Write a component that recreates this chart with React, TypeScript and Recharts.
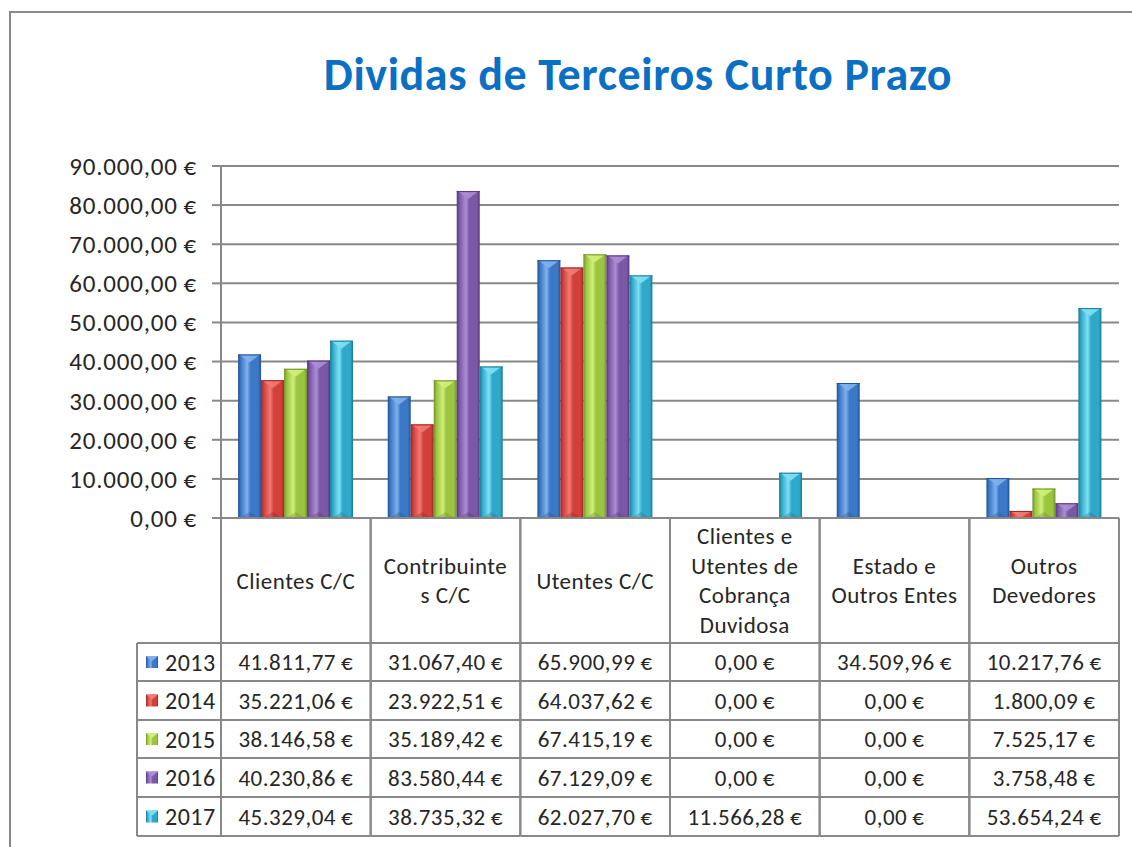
import React from 'react'
import { BarChart, Bar, XAxis, YAxis, CartesianGrid } from 'recharts'

const categories = [
  'Clientes C/C',
  'Contribuinte\ns C/C',
  'Utentes C/C',
  'Clientes e\nUtentes de\nCobrança\nDuvidosa',
  'Estado e\nOutros Entes',
  'Outros\nDevedores',
]
const years = ['2013', '2014', '2015', '2016', '2017']
const v2013 = [41811.77, 31067.4, 65900.99, 0, 34509.96, 10217.76]
const v2014 = [35221.06, 23922.51, 64037.62, 0, 0, 1800.09]
const v2015 = [38146.58, 35189.42, 67415.19, 0, 0, 7525.17]
const v2016 = [40230.86, 83580.44, 67129.09, 0, 0, 3758.48]
const v2017 = [45329.04, 38735.32, 62027.7, 11566.28, 0, 53654.24]
const yTicks = [0, 10000, 20000, 30000, 40000, 50000, 60000, 70000, 80000, 90000]

const series = [v2013, v2014, v2015, v2016, v2017]

// base, dark, light
const PALETTE = [
  ['#3b78c8', '#24528f', '#7fb1ec'],
  ['#d33f3b', '#9c2523', '#f27a74'],
  ['#9bc441', '#6e9128', '#d0ef7a'],
  ['#7b58a6', '#553679', '#ac8ed4'],
  ['#2fa9c9', '#1b7a94', '#7fe0f5'],
]

const W = 1132
const H = 847
const PLOT_L = 221
const PLOT_R = 1119
const PLOT_T = 166
const PLOT_B = 518
const BAND = (PLOT_R - PLOT_L) / categories.length
const ROWS = [643, 681, 720, 758, 797, 836]
const LEG_L = 137
const GRAY = '#888888'
const TXT = '#262626'
const FONT = 'Carlito, Lato, "Open Sans", sans-serif'
const TFS = 23

const data = categories.map((name, i) => {
  const row: Record<string, string | number> = { name }
  years.forEach((y, s) => { row[y] = series[s][i] })
  return row
})

function fmt(v: number) {
  const [int, dec] = v.toFixed(2).split('.')
  return int.replace(/\B(?=(\d{3})+(?!\d))/g, '.') + ',' + dec + '\u2009€'
}

function Bar3D(props: any) {
  const { x, y, width, height, s } = props
  if (!height || height <= 0.5) return null
  const [, dark, light] = PALETTE[s]
  const cap = Math.min(8, height)
  return (
    <g>
      <rect x={x} y={y} width={width} height={height} fill={`url(#bar${s})`} />
      <polygon points={`${x + 1},${y} ${x + width - 1},${y} ${x + width / 2},${y + cap}`} fill={light} opacity={0.9} />
      <line x1={x} x2={x + width} y1={y + 0.5} y2={y + 0.5} stroke={dark} strokeWidth={1} />
      {height > 16 && (
        <polygon points={`${x + 2},${y + height} ${x + width - 2},${y + height} ${x + width / 2},${y + height - 6}`} fill={dark} opacity={0.35} />
      )}
    </g>
  )
}

function TableTick(props: any) {
  const { x, index } = props
  const left = x - BAND / 2
  const right = x + BAND / 2
  const lines = categories[index].split('\n')
  const headMid = (PLOT_B + ROWS[0]) / 2
  const lh = 29.5
  return (
    <g fontFamily={FONT} fill={TXT} letterSpacing={0.5}>
      <line x1={left} x2={left} y1={PLOT_B} y2={ROWS[5]} stroke={GRAY} strokeWidth={2} />
      <line x1={right} x2={right} y1={PLOT_B} y2={ROWS[5]} stroke={GRAY} strokeWidth={2} />
      {ROWS.map((ry) => (
        <line key={ry} x1={left} x2={right} y1={ry} y2={ry} stroke={GRAY} strokeWidth={2} />
      ))}
      {lines.map((t, k) => (
        <text key={k} x={x} y={headMid + (k - (lines.length - 1) / 2) * lh} textAnchor="middle" dominantBaseline="central" fontSize={TFS}>
          {t}
        </text>
      ))}
      {series.map((vals, s) => (
        <text key={s} x={x} y={(ROWS[s] + ROWS[s + 1]) / 2} textAnchor="middle" dominantBaseline="central" fontSize={TFS}>
          {fmt(vals[index])}
        </text>
      ))}
      {index === 0 && (
        <g>
          <line x1={LEG_L} x2={LEG_L} y1={ROWS[0]} y2={ROWS[5]} stroke={GRAY} strokeWidth={2} />
          {ROWS.map((ry) => (
            <line key={ry} x1={LEG_L} x2={left} y1={ry} y2={ry} stroke={GRAY} strokeWidth={2} />
          ))}
          {years.map((yr, s) => {
            const cy = (ROWS[s] + ROWS[s + 1]) / 2
            return (
              <g key={yr}>
                <rect x={146} y={cy - 6} width={12} height={12} fill={`url(#bar${s})`} />
                <polygon points={`${146},${cy - 6} ${158},${cy - 6} ${152},${cy - 1}`} fill={PALETTE[s][2]} />
                <text x={165} y={cy} dominantBaseline="central" fontSize={24}>{yr}</text>
              </g>
            )
          })}
        </g>
      )}
    </g>
  )
}

export default function App() {
  return (
    <div style={{ position: 'absolute', left: 0, top: 0, width: W, height: H, background: '#fff' }}>
      <svg width={W} height={H} style={{ position: 'absolute', left: 0, top: 0 }}>
        <rect x={10} y={12} width={W + 10} height={H + 10} fill="none" stroke={GRAY} strokeWidth={2} />
        <text x={638} y={90} textAnchor="middle" fontFamily={FONT} fontWeight={700} fontSize={46} letterSpacing={0.6} fill="#0b6fc4">
          Dividas de Terceiros Curto Prazo
        </text>
      </svg>
      <div style={{ position: 'absolute', left: 0, top: 0 }}>
        <BarChart
          width={W}
          height={H}
          data={data}
          margin={{ top: PLOT_T, right: W - PLOT_R, bottom: H - 836 - 4, left: 0 }}
          barCategoryGap="11.4%"
          barGap={0}
        >
          <defs>
            {PALETTE.map(([base, dark, light], s) => (
              <linearGradient key={s} id={`bar${s}`} x1="0" y1="0" x2="1" y2="0">
                <stop offset="0%" stopColor={dark} />
                <stop offset="12%" stopColor={base} />
                <stop offset="40%" stopColor={light} stopOpacity={1} />
                <stop offset="55%" stopColor={base} />
                <stop offset="88%" stopColor={base} />
                <stop offset="100%" stopColor={dark} />
              </linearGradient>
            ))}
          </defs>
          <CartesianGrid horizontal vertical={false} stroke={GRAY} strokeWidth={2} />
          <XAxis
            dataKey="name"
            interval={0}
            height={836 + 4 - PLOT_B}
            axisLine={{ stroke: GRAY, strokeWidth: 2 }}
            tickLine={false}
            tick={<TableTick />}
          />
          <YAxis
            width={PLOT_L}
            domain={[0, 90000]}
            ticks={yTicks}
            interval={0}
            tickFormatter={(v: number) => fmt(v)}
            axisLine={{ stroke: GRAY, strokeWidth: 2 }}
            tickLine={{ stroke: GRAY, strokeWidth: 2 }}
            tickSize={9}
            tickMargin={15}
            tick={{ fill: TXT, fontSize: 25, fontFamily: FONT, letterSpacing: 0.8 }}
          />
          {years.map((yr, s) => (
            <Bar
              key={yr}
              dataKey={yr}
              fill={PALETTE[s][0]}
              isAnimationActive={false}
              shape={(p: any) => <Bar3D {...p} s={s} />}
            />
          ))}
        </BarChart>
      </div>
    </div>
  )
}
